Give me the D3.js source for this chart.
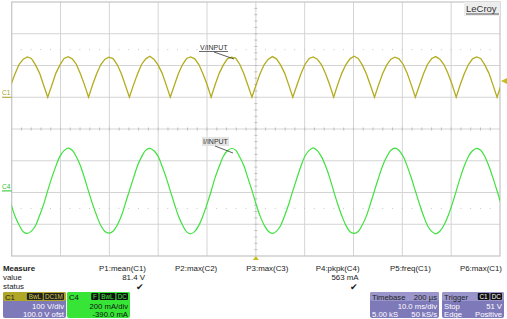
<!DOCTYPE html>
<html>
<head>
<meta charset="utf-8">
<script src="https://cdn.jsdelivr.net/npm/d3@7"></script>
<style>
  body { margin: 0; background: #fff; }
  svg { display: block; font-family: "Liberation Sans", Arial, sans-serif; }
</style>
</head>
<body>
<svg width="507" height="319"></svg>
<script>
// sampling of both traces (ms), 10 samples per half cycle
const sampleStart = -0.149
const sampleStep = 0.8365

// C1 : rectified input voltage (V)
const voltage = [
  40, 74, 104, 120, 127, 122, 102, 76, 38, 0,
  38, 76, 102, 122, 128, 121, 104, 74, 39, 0,
  40, 75, 103, 120, 126, 122, 103, 75, 38, 0,
  39, 74, 104, 121, 129, 120, 102, 76, 39, 0,
  38, 75, 103, 122, 127, 121, 103, 74, 40, 0,
  40, 76, 102, 121, 126, 123, 104, 75, 38, 0,
  39, 75, 103, 120, 128, 121, 102, 76, 39, 0,
  38, 74, 104, 122, 127, 120, 103, 75, 40, 0,
  40, 76, 103, 121, 129, 122, 102, 74, 38, 0,
  39, 75, 102, 120, 126, 121, 104, 76, 39, 0,
  38, 74, 104, 122, 128, 120, 103, 75, 40, 0,
  40, 75, 103, 121, 127, 122, 102, 76, 39, 0,
  40
]

// C4 : input current (mA)
const current = [
  -82, -160, -215, -257, -268, -253, -219, -155, -85, 2,
  84, 156, 219, 254, 270, 256, 215, 159, 81, -3,
  -85, -157, -218, -256, -266, -254, -216, -160, -80, 2,
  82, 160, 216, 257, 268, 253, 219, 155, 84, 0,
  -81, -158, -215, -258, -270, -255, -217, -157, -83, -2,
  85, 155, 218, 253, 267, 257, 214, 160, 82, 3,
  -83, -159, -216, -254, -268, -253, -219, -156, -84, 0,
  80, 157, 220, 255, 271, 254, 216, 158, 85, -1,
  -84, -156, -217, -257, -267, -256, -215, -159, -81, 2,
  83, 159, 215, 256, 269, 255, 218, 156, 83, 0,
  -82, -157, -219, -255, -270, -254, -216, -158, -85, -1,
  84, 158, 217, 253, 268, 256, 217, 157, 82, 1,
  -84
]

const measureNames = ["P1:mean(C1)", "P2:max(C2)", "P3:max(C3)", "P4:pkpk(C4)", "P5:freq(C1)", "P6:max(C1)"]
const measureValues = ["81.4 V", "", "", "563 mA", "", ""]
const measureStatus = ["✔", "", "", "✔", "", ""]

const svg = d3.select("svg")
const plotLeft = 11.7, plotRight = 500, plotTop = 2, plotBottom = 256

// 10 ms/div, 100 V/div with 100 V offset, 200 mA/div with -390 mA offset
const x = d3.scaleLinear().domain([0, 100]).range([plotLeft, plotRight])
const yV = d3.scaleLinear().domain([-500, 300]).range([plotBottom, plotTop])
const yI = d3.scaleLinear().domain([-410, 1190]).range([plotBottom, plotTop])
const yDiv = d3.scaleLinear().domain([0, 8]).range([plotTop, plotBottom])

const gridColor = "#d4d4d4"
const grid = svg.append("g")

grid.selectAll(".vline")
  .data(d3.range(1, 10).map(d => d * 10))
  .enter()
  .append("line")
  .attr("x1", d => x(d)).attr("x2", d => x(d))
  .attr("y1", plotTop).attr("y2", plotBottom)
  .attr("stroke", gridColor)

grid.selectAll(".hline")
  .data(d3.range(1, 8))
  .enter()
  .append("line")
  .attr("x1", plotLeft).attr("x2", plotRight)
  .attr("y1", d => yDiv(d)).attr("y2", d => yDiv(d))
  .attr("stroke", gridColor)

// dotted half-division lines
grid.selectAll(".dot")
  .data([1.5, 6.5])
  .enter()
  .append("line")
  .attr("x1", plotLeft).attr("x2", plotRight)
  .attr("y1", d => yDiv(d)).attr("y2", d => yDiv(d))
  .attr("stroke", "#c4c4c4")
  .attr("stroke-dasharray", "1,8.77")
  .attr("stroke-dashoffset", -9)

// minor ticks on the centre axes
const minorX = d3.range(1, 50).map(d => d * 2)
grid.selectAll(".mx")
  .data(minorX)
  .enter()
  .append("line")
  .attr("x1", d => x(d)).attr("x2", d => x(d))
  .attr("y1", yDiv(4) - 1.5).attr("y2", yDiv(4) + 1.5)
  .attr("stroke", "#bdbdbd")
grid.selectAll(".my")
  .data(d3.range(1, 40).map(d => d / 5))
  .enter()
  .append("line")
  .attr("y1", d => yDiv(d)).attr("y2", d => yDiv(d))
  .attr("x1", x(50) - 1.5).attr("x2", x(50) + 1.5)
  .attr("stroke", "#bdbdbd")

grid.append("rect")
  .attr("x", plotLeft).attr("y", plotTop)
  .attr("width", plotRight - plotLeft).attr("height", plotBottom - plotTop)
  .attr("fill", "none").attr("stroke", "#c8c8c8").attr("stroke-width", 1.3)

svg.append("clipPath").attr("id", "clip")
  .append("rect")
  .attr("x", plotLeft).attr("y", plotTop)
  .attr("width", plotRight - plotLeft).attr("height", plotBottom - plotTop)

const t = i => sampleStart + i * sampleStep

const vLine = d3.line().x((d, i) => x(t(i))).y(d => yV(d))
const iLine = d3.line().x((d, i) => x(t(i))).y(d => yI(d)).curve(d3.curveCatmullRom)

svg.append("path")
  .datum(voltage)
  .attr("clip-path", "url(#clip)")
  .attr("d", vLine)
  .attr("fill", "none")
  .attr("stroke", "#b3ac1e")
  .attr("stroke-width", 1.3)

svg.append("path")
  .datum(current)
  .attr("clip-path", "url(#clip)")
  .attr("d", iLine)
  .attr("fill", "none")
  .attr("stroke", "#3ee23e")
  .attr("stroke-width", 1.2)

// trace labels at left
svg.append("text").attr("x", 2).attr("y", yV(0) - 2)
  .attr("font-size", 6.5).attr("fill", "#a8a020").text("C1")
svg.append("line").attr("x1", 2).attr("x2", plotLeft).attr("y1", yV(0)).attr("y2", yV(0))
  .attr("stroke", "#a8a020")
svg.append("text").attr("x", 2).attr("y", yI(0) - 2)
  .attr("font-size", 6.5).attr("fill", "#2bc42b").text("C4")
svg.append("line").attr("x1", 2).attr("x2", plotLeft).attr("y1", yI(0)).attr("y2", yI(0))
  .attr("stroke", "#2bc42b")

// trigger markers
svg.append("path")
  .attr("d", `M${plotRight + 1},${yV(51)} l6,-3 l0,6 z`)
  .attr("fill", "#c8bd20")
svg.append("path")
  .attr("d", `M${x(50)},${plotBottom} l-3,4 l6,0 z`)
  .attr("fill", "#c8bd20")

// annotations
svg.append("text").attr("x", 200).attr("y", 50)
  .attr("font-size", 7).attr("fill", "#333").text("V/INPUT")
svg.append("line").attr("x1", 199).attr("x2", 228).attr("y1", 51.5).attr("y2", 51.5)
  .attr("stroke", "#444").attr("stroke-width", 0.8)
svg.append("line").attr("x1", 214).attr("x2", 234).attr("y1", 52).attr("y2", 59)
  .attr("stroke", "#333").attr("stroke-width", 0.8)

svg.append("rect").attr("x", 202).attr("y", 137).attr("width", 27).attr("height", 9)
  .attr("fill", "#e4e4e4")
svg.append("text").attr("x", 203).attr("y", 144)
  .attr("font-size", 7).attr("fill", "#333").text("I/INPUT")
svg.append("line").attr("x1", 215).attr("x2", 233).attr("y1", 146).attr("y2", 153)
  .attr("stroke", "#333").attr("stroke-width", 0.8)

// logo
svg.append("rect").attr("x", 464).attr("y", 2).attr("width", 36).attr("height", 14)
  .attr("fill", "#ededed")
svg.append("text").attr("x", 466).attr("y", 12)
  .attr("font-size", 9.5).attr("fill", "#333").text("LeCroy")
svg.append("line").attr("x1", 466).attr("x2", 499).attr("y1", 14).attr("y2", 14)
  .attr("stroke", "#333").attr("stroke-width", 0.8)

// measure table
const fs = 7.9
svg.append("text").attr("x", 3).attr("y", 271).attr("font-size", fs)
  .attr("font-weight", "bold").attr("fill", "#222").text("Measure")
svg.append("text").attr("x", 3).attr("y", 280).attr("font-size", fs).attr("fill", "#222").text("value")
svg.append("text").attr("x", 3).attr("y", 289).attr("font-size", fs).attr("fill", "#222").text("status")

const colX = d3.scaleLinear().domain([0, 5]).range([146, 502])
const meas = svg.append("g").attr("font-size", fs).attr("fill", "#222").attr("text-anchor", "end")
meas.selectAll(".mn").data(measureNames).enter().append("text")
  .attr("x", (d, i) => colX(i)).attr("y", 271).text(d => d)
meas.selectAll(".mv").data(measureValues).enter().append("text")
  .attr("x", (d, i) => colX(i) - 1).attr("y", 280).text(d => d)
meas.selectAll(".ms").data(measureStatus).enter().append("text")
  .attr("x", (d, i) => colX(i) - 2).attr("y", 290).attr("font-size", 8.5).text(d => d)

// channel / timebase boxes
const bfs = 7.7
function tag(g, xr, y, labels, bg, fg) {
  let xp = xr
  labels.slice().reverse().forEach(l => {
    const w = l.length * 4.3 + 3
    xp -= w
    g.append("rect").attr("x", xp).attr("y", y).attr("width", w).attr("height", 7)
      .attr("fill", bg).attr("rx", 1)
    g.append("text").attr("x", xp + w / 2).attr("y", y + 6).attr("text-anchor", "middle")
      .attr("font-size", 6.3).attr("fill", fg).text(l)
    xp -= 1
  })
}

function box(x0, w, headColor, bodyColor, headText, rows, textColor, headTextColor) {
  const g = svg.append("g")
  g.append("rect").attr("x", x0).attr("y", 292).attr("width", w).attr("height", 26)
    .attr("rx", 2).attr("fill", bodyColor)
  g.append("rect").attr("x", x0).attr("y", 292).attr("width", w).attr("height", 9)
    .attr("rx", 2).attr("fill", headColor)
  g.append("text").attr("x", x0 + 2).attr("y", 299.5).attr("font-size", bfs)
    .attr("fill", headTextColor).text(headText)
  rows.forEach((r, i) => {
    if (r[0]) g.append("text").attr("x", x0 + 2).attr("y", 308.5 + i * 8.3)
      .attr("font-size", bfs).attr("fill", textColor).text(r[0])
    g.append("text").attr("x", x0 + w - 2).attr("y", 308.5 + i * 8.3).attr("text-anchor", "end")
      .attr("font-size", bfs).attr("fill", textColor).text(r[1])
  })
  return g
}

const c1 = box(3, 63, "#b0a628", "#7e79b9", "C1", [["", "100 V/div"], ["", "100.0 V ofst"]], "#fff", "#222")
tag(c1, 64, 293, ["BwL", "DC1M"], "#222", "#d8cc40")
const c4 = box(67, 63, "#36e536", "#36e536", "C4", [["", "200 mA/div"], ["", "-390.0 mA"]], "#111", "#111")
tag(c4, 128, 293, ["F", "BwL", "DC"], "#111", "#40ee40")

const tb = box(370, 69, "#9a96cc", "#7e79b9", "Timebase", [["", "10.0 ms/div"], ["5.00 kS", "50 kS/s"]], "#fff", "#222")
tb.append("text").attr("x", 437).attr("y", 299.5).attr("text-anchor", "end")
  .attr("font-size", bfs).attr("fill", "#222").text("200 µs")
const tr = box(442, 62, "#9a96cc", "#7e79b9", "Trigger", [["Stop", "51 V"], ["Edge", "Positive"]], "#fff", "#222")
tag(tr, 502, 293, ["C1", "DC"], "#111", "#fff")
</script>
</body>
</html>
